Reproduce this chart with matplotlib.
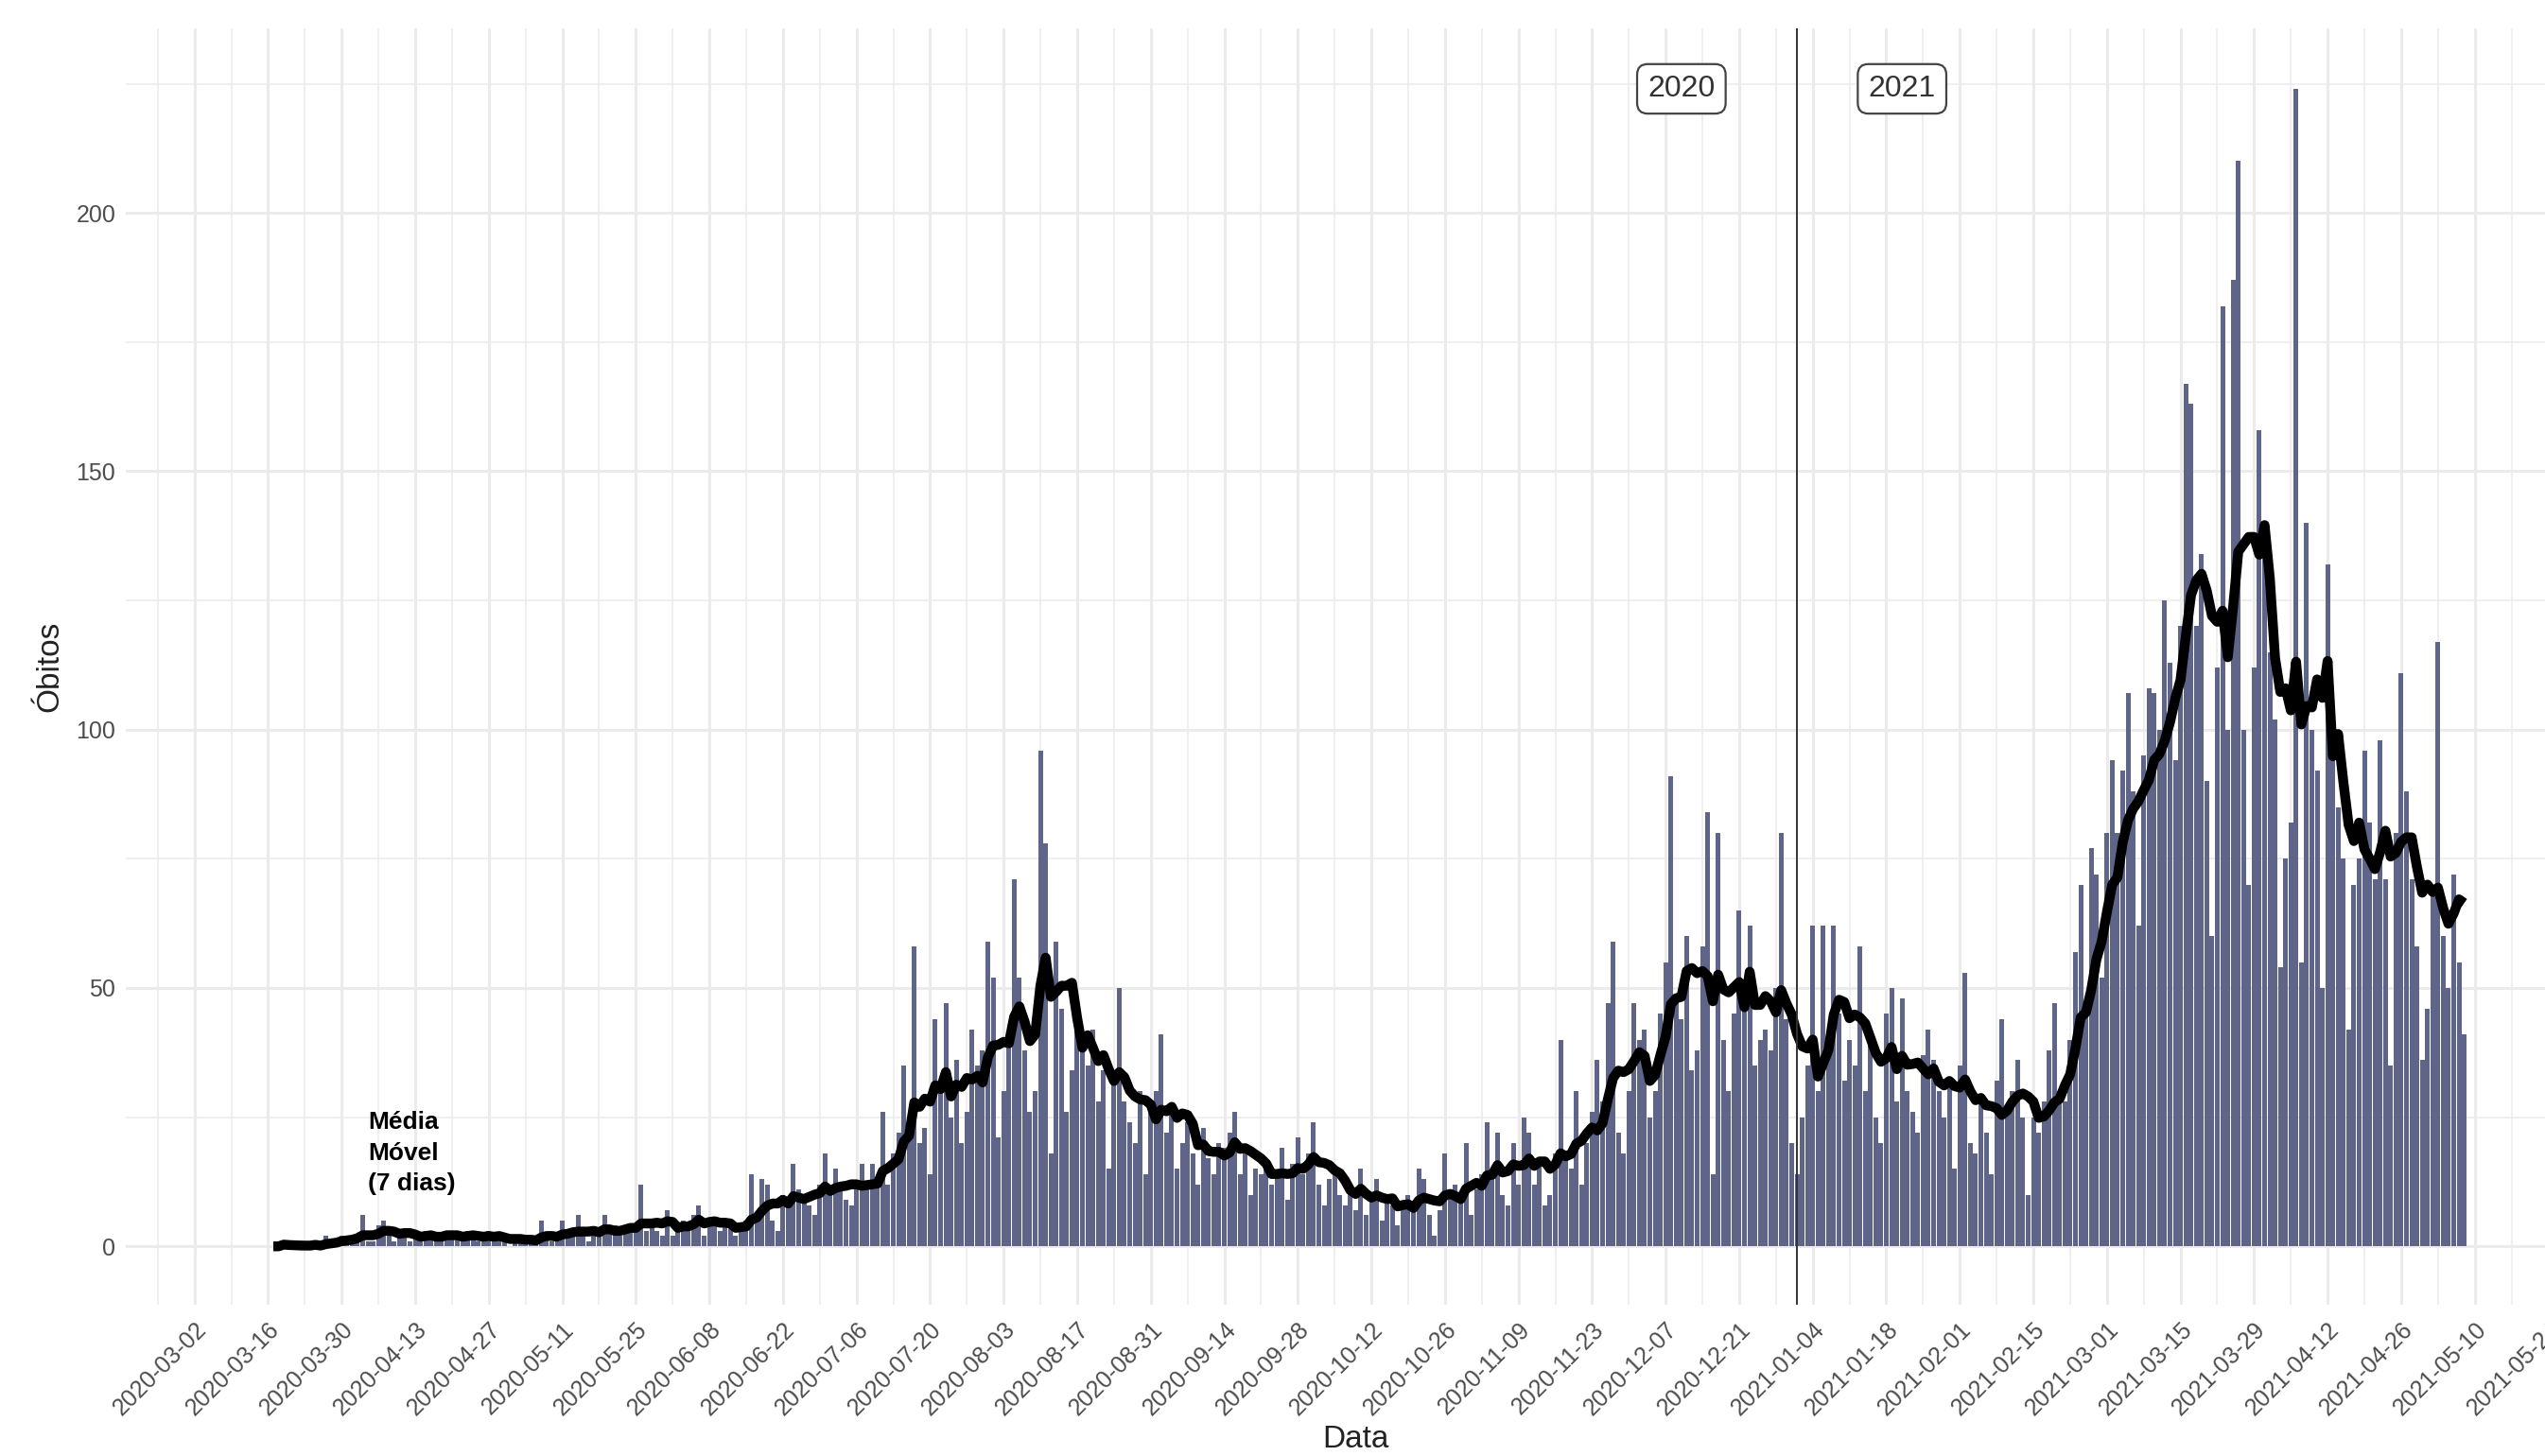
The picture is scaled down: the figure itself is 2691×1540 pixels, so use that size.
import matplotlib
matplotlib.use("Agg")
import matplotlib.pyplot as plt
import pandas as pd

plt.rcParams['font.family'] = ['Liberation Sans', 'DejaVu Sans']

# primeiro dia da serie
inicio = '2020-03-17'

# obitos diarios, em blocos de semanas
obitos_mar_mai_2020 = [
    0, 0, 1, 0, 0, 0, 0,
    0, 1, 0, 2, 1, 1, 2,
    1, 2, 2, 6, 1, 1, 4,
    5, 2, 1, 3, 2, 1, 2,
    2, 3, 2, 1, 2, 3, 2,
    2, 1, 3, 2, 1, 2, 3,
    1, 2, 1, 0, 1, 2, 2,
    1, 1, 5, 2, 1, 1, 5,
    2, 3, 6, 2, 1, 2, 3,
    6, 3, 4, 2, 3, 4, 3,
    12, 3, 4, 3, 2, 7, 2,
]
obitos_jun_ago_2020 = [
    4, 5, 4, 6, 8, 2, 4,
    5, 3, 4, 5, 2, 3, 5,
    14, 6, 13, 12, 5, 3, 10,
    9, 16, 11, 10, 8, 6, 12,
    18, 10, 15, 12, 9, 8, 12,
    16, 11, 16, 13, 26, 12, 18,
    22, 35, 24, 58, 20, 23, 14,
    44, 30, 47, 25, 36, 20, 26,
    42, 35, 38, 59, 52, 21, 30,
    40, 71, 52, 38, 26, 30, 96,
    78, 18, 59, 46, 26, 34, 48,
    38, 35, 42, 28, 34, 15, 32,
    50, 28, 24, 20, 30, 14, 26,
]
obitos_set_nov_2020 = [
    30, 41, 22, 26, 15, 20, 24,
    18, 12, 23, 17, 14, 20, 19,
    22, 26, 14, 18, 10, 15, 14,
    15, 12, 14, 19, 9, 16, 21,
    14, 18, 24, 12, 8, 13, 14,
    10, 8, 11, 7, 15, 6, 9,
    13, 5, 9, 8, 4, 8, 10,
    8, 15, 13, 6, 2, 7, 18,
    10, 12, 9, 20, 6, 11, 14,
    24, 13, 22, 10, 8, 20, 12,
    25, 22, 12, 16, 8, 10, 18,
    40, 18, 15, 30, 12, 20, 26,
    36, 28, 47, 59, 22, 18, 30,
]
obitos_dez_2020_fev_2021 = [
    47, 40, 42, 25, 30, 45, 55,
    91, 48, 44, 60, 34, 38, 58,
    84, 14, 80, 40, 30, 45, 65,
    50, 62, 35, 40, 42, 38, 50,
    80, 44, 20, 14, 25, 35, 62,
    30, 62, 38, 62, 45, 32, 40,
    35, 58, 30, 42, 25, 20, 45,
    50, 28, 48, 30, 26, 22, 37,
    42, 36, 30, 25, 32, 15, 35,
    53, 20, 18, 28, 22, 14, 32,
    44, 26, 30, 36, 25, 10, 25,
    22, 28, 38, 47, 30, 28, 40,
]
obitos_mar_mai_2021 = [
    57, 70, 45, 77, 72, 52, 80,
    94, 80, 92, 107, 88, 62, 95,
    108, 107, 100, 125, 113, 94, 120,
    167, 163, 120, 134, 90, 60, 112,
    182, 100, 187, 210, 100, 70, 112,
    158, 140, 115, 102, 54, 75, 82,
    224, 55, 140, 100, 92, 50, 132,
    95, 85, 75, 42, 70, 75, 96,
    82, 71, 98, 71, 35, 80, 111,
    88, 71, 58, 36, 46, 70, 117,
    60, 50, 72, 55, 41,
]

obitos = (obitos_mar_mai_2020 + obitos_jun_ago_2020 + obitos_set_nov_2020
          + obitos_dez_2020_fev_2021 + obitos_mar_mai_2021)
datas = pd.date_range(inicio, periods=len(obitos), freq='D')
media_movel = pd.Series(obitos, index=datas).rolling(7, min_periods=1).mean()

# marcas do eixo x a cada 14 dias
marcas = pd.date_range('2020-03-02', '2021-05-24', freq='14D')
marcas_menores = pd.date_range('2020-02-24', '2021-05-31', freq='14D')

fig = plt.figure(figsize=(26.91, 15.40), dpi=100)
ax = fig.add_axes([0.0496, 0.1039, 0.9682, 0.8766])

ax.bar(datas, obitos, width=0.9, color='#5e6589', zorder=2)
ax.plot(datas, media_movel, color='black', lw=7.5, zorder=3,
        solid_joinstyle='round', solid_capstyle='butt')

# divisao entre os anos
ax.axvline(pd.Timestamp('2021-01-01'), color='#333333', lw=1.4, zorder=4)
caixa = dict(boxstyle='round,pad=0.35', fc='white', ec='#444444', lw=1.6)
ax.text(pd.Timestamp('2020-12-10'), 224, '2020', ha='center', va='center',
        fontsize=23, color='#333333', bbox=caixa, zorder=5)
ax.text(pd.Timestamp('2021-01-21'), 224, '2021', ha='center', va='center',
        fontsize=23, color='#333333', bbox=caixa, zorder=5)

ax.text(pd.Timestamp('2020-04-04'), 18, 'Média\nMóvel\n(7 dias)', ha='left',
        va='center', fontsize=19, fontweight='bold', color='black',
        linespacing=1.45, zorder=5)

ax.set_xlim(pd.Timestamp('2020-02-18'), pd.Timestamp('2021-06-01'))
ax.set_ylim(-11.3, 235.7)

ax.set_xticks(marcas)
ax.set_xticklabels([d.strftime('%Y-%m-%d') for d in marcas])
ax.set_xticks(marcas_menores, minor=True)
ax.set_yticks([0, 50, 100, 150, 200])
ax.set_yticks([25, 75, 125, 175, 225], minor=True)
plt.setp(ax.get_xticklabels(), rotation=45, ha='right', va='top',
         rotation_mode='anchor')

ax.grid(which='major', color='#EBEBEB', lw=2.2, zorder=0)
ax.grid(which='minor', color='#EBEBEB', lw=1.1, zorder=0)
ax.set_axisbelow(True)
for s in ax.spines.values():
    s.set_visible(False)
ax.tick_params(which='both', length=0, labelsize=18, labelcolor='#4D4D4D')
ax.tick_params(axis='x', pad=10)
ax.tick_params(axis='y', pad=8)

ax.set_xlabel('Data', fontsize=24, color='#222222')
ax.set_ylabel('Óbitos', fontsize=24, color='#222222')
ax.xaxis.set_label_coords(0.4988, -0.094)
ax.yaxis.set_label_coords(-0.025, 0.5)

fig.savefig('out.png', dpi=100)
